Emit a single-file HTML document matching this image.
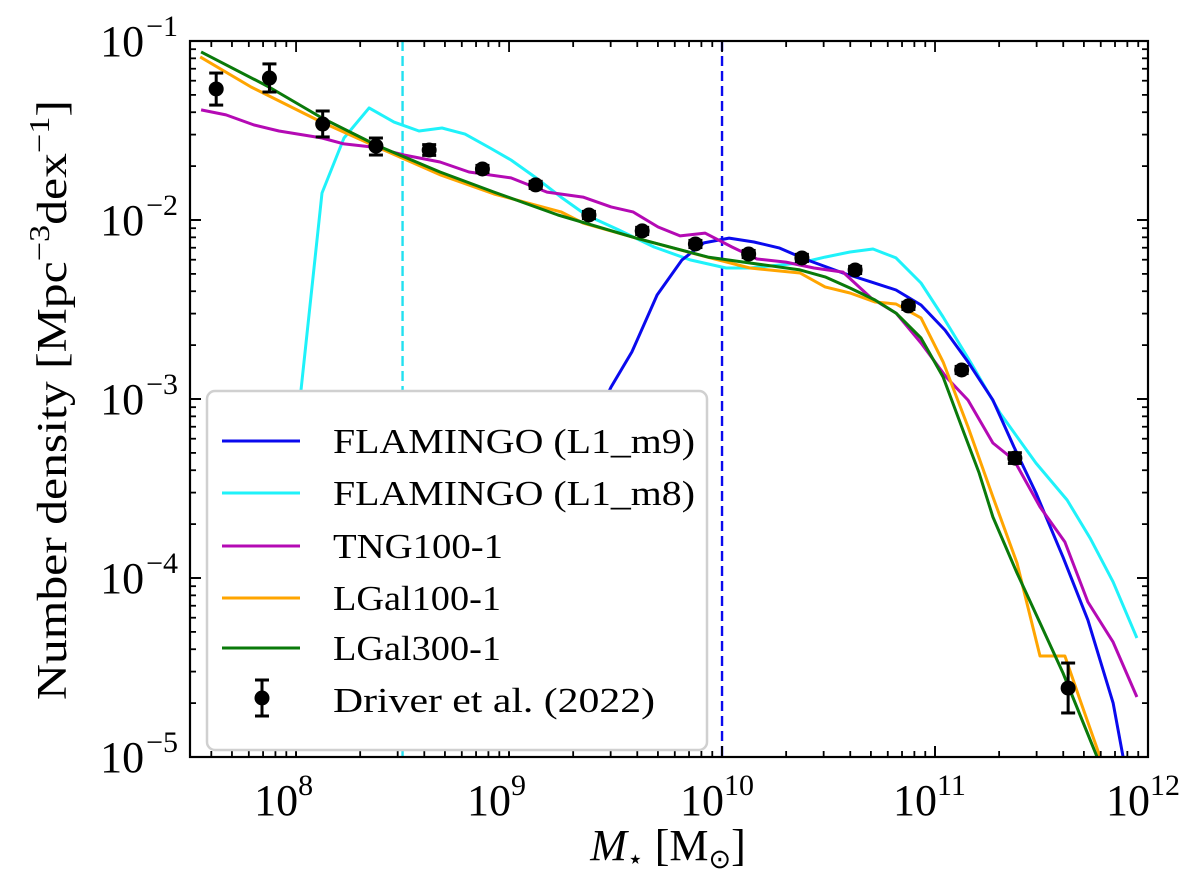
<!DOCTYPE html>
<html><head><meta charset="utf-8"><style>
html,body{margin:0;padding:0;background:#fff}
svg{display:block;font-family:"Liberation Serif","DejaVu Serif",serif}
</style></head><body>
<svg id="chart" width="1200" height="877" viewBox="0 0 1200 877" xmlns="http://www.w3.org/2000/svg">
<defs><clipPath id="plotclip"><rect x="190" y="41" width="958" height="716"/></clipPath></defs>
<g id="plot" clip-path="url(#plotclip)"></g>
<g id="axes"></g>
</svg>
<script>
// ---- data (log10 stellar mass, log10 number density) ----
const m9LogM   = [9.357,9.479,9.577,9.695,9.812,9.915,10.033,10.150,10.268,10.399,10.568,10.700,10.817,10.934,11.047,11.155,11.272,11.371,11.474,11.601,11.718,11.836,11.883];
const m9LogPhi = [-3.229,-2.933,-2.737,-2.419,-2.223,-2.128,-2.101,-2.123,-2.156,-2.223,-2.296,-2.346,-2.391,-2.475,-2.615,-2.793,-3.006,-3.268,-3.525,-3.883,-4.235,-4.698,-5.0];
const m8LogM   = [7.986,8.023,8.122,8.225,8.343,8.460,8.577,8.685,8.793,8.911,9.009,9.127,9.244,9.362,9.516,9.681,9.850,10.019,10.131,10.366,10.484,10.601,10.709,10.817,10.934,11.038,11.169,11.305,11.474,11.620,11.728,11.836,11.948];
const m8LogPhi = [-3.564,-2.950,-1.849,-1.542,-1.374,-1.453,-1.503,-1.486,-1.520,-1.598,-1.665,-1.765,-1.872,-1.972,-2.056,-2.151,-2.223,-2.268,-2.268,-2.240,-2.207,-2.179,-2.162,-2.212,-2.352,-2.542,-2.799,-3.078,-3.358,-3.564,-3.777,-4.022,-4.335];
const tngLogM   = [7.554,7.671,7.803,7.920,8.122,8.225,8.357,8.507,8.676,8.812,9.009,9.178,9.347,9.479,9.582,9.700,9.803,9.920,10.047,10.164,10.300,10.432,10.568,10.700,10.817,10.934,11.052,11.155,11.272,11.371,11.493,11.610,11.718,11.836,11.948];
const tngLogPhi = [-1.385,-1.413,-1.469,-1.503,-1.542,-1.575,-1.592,-1.637,-1.676,-1.732,-1.765,-1.844,-1.872,-1.927,-1.955,-2.039,-2.089,-2.073,-2.151,-2.218,-2.235,-2.268,-2.291,-2.436,-2.520,-2.687,-2.877,-3.006,-3.246,-3.341,-3.603,-3.799,-4.134,-4.358,-4.665];
const lg100LogM   = [7.55,7.789,8.12,8.38,8.68,8.93,9.244,9.347,9.596,9.93,10.131,10.366,10.484,10.601,10.718,10.817,10.934,11.038,11.155,11.272,11.385,11.493,11.610,11.681,11.775];
const lg100LogPhi = [-1.089,-1.257,-1.453,-1.592,-1.749,-1.855,-1.955,-2.017,-2.101,-2.207,-2.268,-2.296,-2.374,-2.408,-2.458,-2.469,-2.547,-2.793,-3.156,-3.547,-3.916,-4.436,-4.436,-4.682,-5.0];
const lg300LogM   = [7.554,7.873,8.122,8.376,8.676,8.930,9.230,9.596,9.934,10.131,10.366,10.484,10.601,10.718,10.817,10.934,11.038,11.136,11.207,11.272,11.385,11.493,11.601,11.761];
const lg300LogPhi = [-1.061,-1.257,-1.430,-1.581,-1.732,-1.844,-1.972,-2.101,-2.207,-2.240,-2.279,-2.318,-2.380,-2.447,-2.520,-2.659,-2.877,-3.190,-3.413,-3.659,-3.972,-4.251,-4.531,-5.0];
const obsLogM   = [7.625,7.875,8.125,8.375,8.625,8.875,9.125,9.375,9.625,9.875,10.125,10.375,10.625,10.875,11.125,11.375,11.625];
const obsLogPhi = [-1.268,-1.207,-1.464,-1.587,-1.609,-1.715,-1.804,-1.972,-2.061,-2.134,-2.190,-2.212,-2.279,-2.480,-2.838,-3.330,-4.615];
const obsErrLo  = [0.090,0.078,0.072,0.050,0.03,0.02,0.02,0.02,0.02,0.02,0.02,0.02,0.02,0.02,0.02,0.03,0.139];
const obsErrHi  = [0.089,0.079,0.073,0.045,0.03,0.02,0.02,0.02,0.02,0.02,0.02,0.02,0.02,0.02,0.02,0.03,0.140];
const xTickExps = [8,9,10,11,12];
const yTickExps = [-1,-2,-3,-4,-5];
const resolutionLines = [8.5, 10.0];

// ---- axes ----
const L=190,R=1148,T=41,B=757;
const xMin=7.502,xMax=12.0,yMin=-5,yMax=-1;
const X=v=>L+(v-xMin)/(xMax-xMin)*(R-L);
const Y=v=>B-(v-yMin)/(yMax-yMin)*(B-T);
const NS="http://www.w3.org/2000/svg";
function mk(tag,attrs,parent){const e=document.createElementNS(NS,tag);for(const k in attrs)e.setAttribute(k,attrs[k]);parent.appendChild(e);return e;}
const plot=document.getElementById('plot'),axes=document.getElementById('axes');

const resColors=['#22e0f0','#0a0aee'];
resolutionLines.forEach((v,i)=>{
  const l=mk('line',{x1:X(v),x2:X(v),y1:T,y2:B,stroke:resColors[i],'stroke-width':2.4,'stroke-dasharray':'10,5'},plot);
  
  
});

function line(xs,ys,color,name){
  const d=xs.map((x,i)=>(i?'L':'M')+X(x).toFixed(1)+','+Y(ys[i]).toFixed(1)).join(' ');
  const p=mk('path',{d:d,fill:'none',stroke:color,'stroke-width':3,'stroke-linejoin':'round'},plot);
  
  
}
line(m8LogM,m8LogPhi,'#1ff2fa','flamingo-l1-m8-line');
line(m9LogM,m9LogPhi,'#0a0aee','flamingo-l1-m9-line');
line(tngLogM,tngLogPhi,'#b40ab4','tng100-1-line');
line(lg100LogM,lg100LogPhi,'#ffa500','lgal100-1-line');
line(lg300LogM,lg300LogPhi,'#0a7a0a','lgal300-1-line');

obsLogM.forEach((m,i)=>{
  const g=mk('g',{},plot);
  
  
  const x=X(m),y1=Y(obsLogPhi[i]+obsErrHi[i]),y2=Y(obsLogPhi[i]-obsErrLo[i]);
  mk('line',{x1:x,x2:x,y1:y1,y2:y2,stroke:'#000','stroke-width':3},g);
  mk('line',{x1:x-7,x2:x+7,y1:y1,y2:y1,stroke:'#000','stroke-width':3},g);
  mk('line',{x1:x-7,x2:x+7,y1:y2,y2:y2,stroke:'#000','stroke-width':3},g);
  mk('circle',{cx:x,cy:Y(obsLogPhi[i]),r:7.5,fill:'#000'},g);
});

const fr=mk('rect',{x:L,y:T,width:R-L,height:B-T,fill:'none',stroke:'#000','stroke-width':2.2},axes);


for(let e=7;e<12;e++){for(let k=1;k<10;k++){const v=e+Math.log10(k);if(v<xMin||v>xMax)continue;const x=X(v),len=k===1?11:6;
  mk('line',{x1:x,x2:x,y1:B,y2:B-len,stroke:'#000','stroke-width':1.8},axes);
  mk('line',{x1:x,x2:x,y1:T,y2:T+len,stroke:'#000','stroke-width':1.8},axes);}}
xTickExps.forEach(e=>{const x=X(e);
  mk('line',{x1:x,x2:x,y1:B,y2:B-11,stroke:'#000','stroke-width':1.8},axes);
  const t=mk('text',{x:x+2,y:815,'font-size':44,'text-anchor':'end'},axes);
  
  
  t.textContent='10';
  const t2=mk('text',{x:x+2,y:795,'font-size':30,'text-anchor':'start'},axes);
  
  
  t2.textContent=String(e);
});
for(let e=-5;e<-1;e++){for(let k=1;k<10;k++){const v=e+Math.log10(k);const y=Y(v),len=k===1?11:6;
  mk('line',{x1:L,x2:L+len,y1:y,y2:y,stroke:'#000','stroke-width':1.8},axes);
  mk('line',{x1:R,x2:R-len,y1:y,y2:y,stroke:'#000','stroke-width':1.8},axes);}}
yTickExps.forEach(e=>{const y=Y(e);
  mk('line',{x1:L,x2:L+11,y1:y,y2:y,stroke:'#000','stroke-width':1.8},axes);
  mk('line',{x1:R,x2:R-11,y1:y,y2:y,stroke:'#000','stroke-width':1.8},axes);
  const t=mk('text',{x:178,y:y+15,'font-size':44,'text-anchor':'end'},axes);
  
  
  const a=mk('tspan',{},t);a.textContent='10';
  const s=mk('tspan',{dy:-20,'font-size':30,dx:2},t);s.textContent='\u2212'+String(-e);
});
</script>
<svg style="position:absolute;left:0;top:0" width="1200" height="877" xmlns="http://www.w3.org/2000/svg">
<text transform="translate(66,400) rotate(-90)" text-anchor="middle" font-size="42" font-family="Liberation Serif,serif" textLength="600" lengthAdjust="spacingAndGlyphs">Number density [Mpc<tspan dy="-17" font-size="29">−3</tspan><tspan dy="17">dex</tspan><tspan dy="-17" font-size="29">−1</tspan><tspan dy="17">]</tspan></text>
<text x="668" y="860" text-anchor="middle" font-size="44" font-family="Liberation Serif,serif"><tspan font-style="italic">M</tspan><tspan font-size="27" dy="8">⋆</tspan><tspan dy="-8"> [M</tspan><tspan font-size="27" dy="8">⊙</tspan><tspan dy="-8">]</tspan></text>
<g font-family="Liberation Serif,serif" font-size="35">
<rect x="207" y="391" width="500" height="359" rx="8" fill="#fff" stroke="#d0d0d0" stroke-width="2.5"/>
<g><line x1="222" x2="300" y1="441" y2="441" stroke="#0a0aee" stroke-width="3"/><text x="333" y="453" textLength="362" lengthAdjust="spacingAndGlyphs">FLAMINGO (L1_m9)</text></g>
<g><line x1="222" x2="300" y1="493" y2="493" stroke="#1ff2fa" stroke-width="3"/><text x="333" y="505" textLength="362" lengthAdjust="spacingAndGlyphs">FLAMINGO (L1_m8)</text></g>
<g><line x1="222" x2="300" y1="546" y2="546" stroke="#b40ab4" stroke-width="3"/><text x="333" y="558" textLength="170" lengthAdjust="spacingAndGlyphs">TNG100-1</text></g>
<g><line x1="222" x2="300" y1="598" y2="598" stroke="#ffa500" stroke-width="3"/><text x="333" y="610" textLength="168" lengthAdjust="spacingAndGlyphs">LGal100-1</text></g>
<g><line x1="222" x2="300" y1="648" y2="648" stroke="#0a7a0a" stroke-width="3"/><text x="333" y="660" textLength="168" lengthAdjust="spacingAndGlyphs">LGal300-1</text></g>
<g><line x1="262" x2="262" y1="680" y2="716" stroke="#000" stroke-width="3"/><line x1="255" x2="269" y1="680" y2="680" stroke="#000" stroke-width="3"/><line x1="255" x2="269" y1="716" y2="716" stroke="#000" stroke-width="3"/><circle cx="262" cy="698" r="7.5"/><text x="333" y="712" textLength="322" lengthAdjust="spacingAndGlyphs">Driver et al. (2022)</text></g>
</g>
</svg>
</body></html>
